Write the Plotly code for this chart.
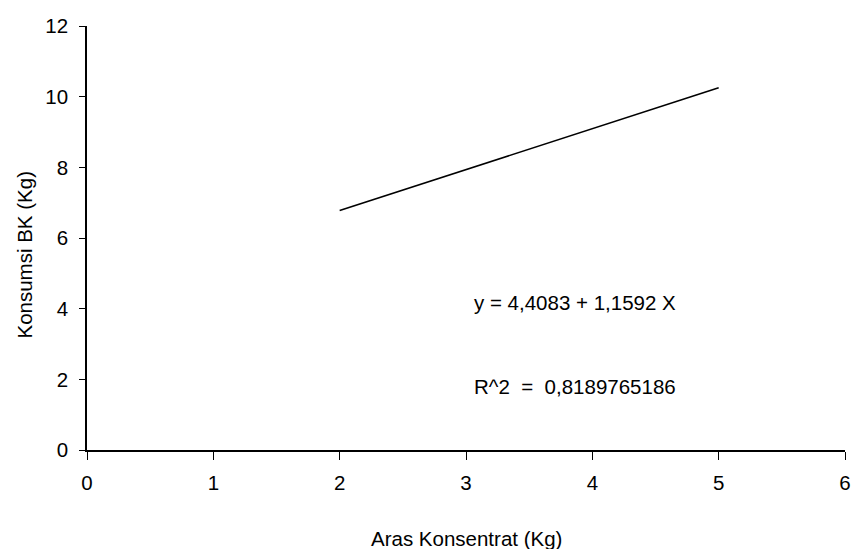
import plotly.graph_objects as go

# Regression line endpoints
x_vals = [2, 5]
y_vals = [6.78, 10.25]

x_ticks = [0, 1, 2, 3, 4, 5, 6]
y_ticks = [0, 2, 4, 6, 8, 10, 12]

equation_text = "y = 4,4083 + 1,1592 X"
r2_text = "R^2  =  0,8189765186"
x_title = "Aras Konsentrat (Kg)"
y_title = "Konsumsi BK (Kg)"

FONT = "Liberation Sans, Arial, sans-serif"
FS = 20.5

W, H = 859, 549
l, r, t, b = 87, 8, 26, 99
pw, ph = W - l - r, H - t - b


def px_to_paper(px, py):
    return (px - l) / pw, (H - b - py) / ph


fig = go.Figure()
fig.add_trace(go.Scatter(x=x_vals, y=y_vals, mode="lines",
                         line=dict(color="black", width=1.6),
                         showlegend=False, hoverinfo="skip"))

ax, ay = px_to_paper(470, 538)
yx, yy = px_to_paper(23, 255)

fig.update_layout(
    width=W, height=H,
    margin=dict(l=l, r=r, t=t, b=b),
    paper_bgcolor="white", plot_bgcolor="white",
    font=dict(family=FONT, size=FS, color="black"),
    xaxis=dict(range=[0, 6], tickvals=x_ticks, ticktext=[str(v) for v in x_ticks],
               showgrid=False, zeroline=False, showline=True, linecolor="black",
               linewidth=1.6, ticks="outside", ticklen=8, tickwidth=1.3,
               tickcolor="black", ticklabelstandoff=6,
               tickfont=dict(size=FS)),
    yaxis=dict(range=[0, 12], tickvals=y_ticks, ticktext=[str(v) for v in y_ticks],
               showgrid=False, zeroline=False, showline=True, linecolor="black",
               linewidth=1.6, ticks="outside", ticklen=6, tickwidth=1.3,
               tickcolor="black", ticklabelstandoff=7,
               tickfont=dict(size=FS)),
    annotations=[
        dict(x=3.05, y=4.17, xref="x", yref="y", text=equation_text,
             showarrow=False, xanchor="left", yanchor="middle",
             font=dict(size=FS)),
        dict(x=3.05, y=1.79, xref="x", yref="y", text=r2_text,
             showarrow=False, xanchor="left", yanchor="middle",
             font=dict(size=FS)),
        dict(x=ax, y=ay, xref="paper", yref="paper", text=x_title,
             showarrow=False, xanchor="center", yanchor="middle",
             font=dict(size=FS)),
        dict(x=yx, y=yy, xref="paper", yref="paper", text=y_title,
             showarrow=False, textangle=-90, xanchor="center",
             yanchor="middle", font=dict(size=FS)),
    ],
)

# remove the default 8px page margin so the figure fills the window exactly
fig.write_html("out.html",
               config={"displayModeBar": False},
               post_script="document.body.style.margin='0';document.body.style.overflow='hidden';")
